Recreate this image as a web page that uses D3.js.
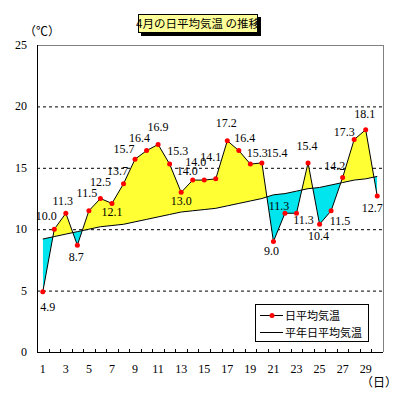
<!DOCTYPE html>
<html>
<head>
<meta charset="utf-8">
<script src="https://cdn.jsdelivr.net/npm/d3@7"></script>
<style>
  body { margin: 0; background: #fff; }
  text { font-family: "Liberation Serif", "Noto Sans CJK JP", serif; font-size: 12px; }
  .jp { font-family: "Noto Sans CJK JP", sans-serif; font-size: 11px; }
</style>
</head>
<body>
<svg width="399" height="400"></svg>
<script>
// data
const days = [1, 2, 3, 4, 5, 6, 7, 8, 9, 10, 11, 12, 13, 14, 15,
              16, 17, 18, 19, 20, 21, 22, 23, 24, 25, 26, 27, 28, 29, 30];
const dailyTemp = [4.9, 10.0, 11.3, 8.7, 11.5, 12.5, 12.1, 13.7, 15.7, 16.4,
                   16.9, 15.3, 13.0, 14.0, 14.0, 14.1, 17.2, 16.4, 15.3, 15.4,
                   9.0, 11.3, 11.3, 15.4, 10.4, 11.5, 14.2, 17.3, 18.1, 12.7];
const normalTemp = [9.2, 9.4, 9.6, 9.8, 10.0, 10.2, 10.3, 10.4, 10.6, 10.8,
                    11.0, 11.2, 11.4, 11.5, 11.6, 11.7, 11.9, 12.1, 12.3, 12.5,
                    12.8, 12.9, 13.1, 13.3, 13.4, 13.6, 13.8, 14.0, 14.1, 14.3];
const yTicks = [0, 5, 10, 15, 20, 25];
const xTickLabels = [1, 3, 5, 7, 9, 11, 13, 15, 17, 19, 21, 23, 25, 27, 29];
const titleText = '4月の日平均気温 の推移';
const legendLabels = ['日平均気温', '平年日平均気温'];

// label nudges (layout only): [dx, dy] of the label centre from its point
const labelOffsets = [[5, 15], [-8, -13], [-3, -12], [-1, 12], [-2, -18], [0, -17],
                      [0, 9], [-6, -13], [-11, -10], [-7, -13], [0, -17], [8, -13],
                      [0, 9], [3, -18], [-17, -9], [-5, -22], [-1, -18], [6, -13],
                      [7, -11], [15, -10], [-2, 10], [-6, -7], [7, 7], [-1, -17],
                      [-1, 12], [9, 10], [-8, -12], [-10, -8], [-1, -16], [-5, 12]];

const svg = d3.select('svg');
const width = +svg.attr('width');
const height = +svg.attr('height');

svg.append('rect').attr('width', width).attr('height', height).attr('fill', '#fff');

const margin = { top: 45, right: 16, bottom: 48, left: 37 };
const innerWidth = width - margin.left - margin.right;
const innerHeight = height - margin.top - margin.bottom;

const data = days.map((d, i) => ({ day: d, temp: dailyTemp[i], normal: normalTemp[i] }));

const xScale = d3.scaleLinear().domain([0.5, 30.5]).range([0, innerWidth]);
const yScale = d3.scaleLinear().domain([0, 25]).range([innerHeight, 0]);

const g = svg.append('g').attr('transform', `translate(${margin.left},${margin.top})`);

// clip regions above / below the normal line
const defs = svg.append('defs');
defs.append('clipPath').attr('id', 'above')
  .append('path')
  .attr('d', d3.area().x(d => xScale(d.day)).y0(-5).y1(d => yScale(d.normal))(data));
defs.append('clipPath').attr('id', 'below')
  .append('path')
  .attr('d', d3.area().x(d => xScale(d.day)).y0(innerHeight + 5).y1(d => yScale(d.normal))(data));

// gridlines
g.selectAll('.grid').data(yTicks.filter(t => t > 0 && t < 25))
  .enter().append('line')
    .attr('x1', 0).attr('x2', innerWidth)
    .attr('y1', d => yScale(d) + 0.5).attr('y2', d => yScale(d) + 0.5)
    .attr('stroke', '#000').attr('stroke-dasharray', '3,3');

// frame: gray top/right, black left/bottom axes
g.append('line').attr('x1', 0).attr('x2', innerWidth).attr('y1', 0.5).attr('y2', 0.5).attr('stroke', '#808080');
g.append('line').attr('x1', innerWidth + 0.5).attr('x2', innerWidth + 0.5).attr('y1', 0).attr('y2', innerHeight).attr('stroke', '#808080');

// filled differences
const diffArea = d3.area()
  .x(d => xScale(d.day))
  .y0(d => yScale(d.normal))
  .y1(d => yScale(d.temp));
g.append('path').attr('d', diffArea(data)).attr('fill', '#ffff33').attr('clip-path', 'url(#above)');
g.append('path').attr('d', diffArea(data)).attr('fill', '#00e5ee').attr('clip-path', 'url(#below)');

// lines
const normalLine = d3.line().x(d => xScale(d.day)).y(d => yScale(d.normal));
const dailyLine = d3.line().x(d => xScale(d.day)).y(d => yScale(d.temp));
g.append('path').attr('d', normalLine(data)).attr('fill', 'none').attr('stroke', '#000');
g.append('path').attr('d', dailyLine(data)).attr('fill', 'none').attr('stroke', '#000');

g.selectAll('.pt').data(data)
  .enter().append('circle')
    .attr('cx', d => xScale(d.day))
    .attr('cy', d => yScale(d.temp))
    .attr('r', 2.5)
    .attr('fill', '#ff0000');

// value labels
g.selectAll('.lbl').data(data)
  .enter().append('text')
    .attr('x', (d, i) => xScale(d.day) + labelOffsets[i][0])
    .attr('y', (d, i) => yScale(d.temp) + labelOffsets[i][1] + 4)
    .attr('text-anchor', 'middle')
    .text(d => d3.format('.1f')(d.temp));

// axes
g.append('line').attr('x1', 0.5).attr('x2', 0.5).attr('y1', 0).attr('y2', innerHeight).attr('stroke', '#000');
g.append('line').attr('x1', 0).attr('x2', innerWidth).attr('y1', innerHeight + 0.5).attr('y2', innerHeight + 0.5).attr('stroke', '#000');

g.selectAll('.xtick').data(days.slice(0, -1))
  .enter().append('line')
    .attr('x1', d => Math.round(xScale(d + 0.5)) + 0.5)
    .attr('x2', d => Math.round(xScale(d + 0.5)) + 0.5)
    .attr('y1', innerHeight).attr('y2', innerHeight - 3)
    .attr('stroke', '#000');

g.selectAll('.xlab').data(xTickLabels)
  .enter().append('text')
    .attr('x', d => xScale(d))
    .attr('y', innerHeight + 21)
    .attr('text-anchor', 'middle')
    .text(d => d);

g.selectAll('.ylab').data(yTicks)
  .enter().append('text')
    .attr('x', -10)
    .attr('y', d => yScale(d) + 4)
    .attr('text-anchor', 'end')
    .text(d => d);

svg.append('text').attr('class', 'jp').attr('x', 24).attr('y', 36).style('font-size', '12px').text('（℃）');
svg.append('text').attr('class', 'jp').attr('x', 361).attr('y', 387).style('font-size', '12px').text('（日）');

// title box with shadow
const title = svg.append('g').attr('transform', 'translate(138,14)');
title.append('rect').attr('x', 3).attr('y', 3).attr('width', 120).attr('height', 19).attr('fill', '#000');
title.append('rect').attr('x', 0.5).attr('y', 0.5).attr('width', 119).attr('height', 18)
  .attr('fill', '#ffff99').attr('stroke', '#000');
title.append('text').attr('class', 'jp').attr('x', 60).attr('y', 14)
  .attr('text-anchor', 'middle').style('font-size', '11.5px').text(titleText);

// legend
const legend = svg.append('g').attr('transform', 'translate(255,304)');
legend.append('rect').attr('x', 0.5).attr('y', 0.5).attr('width', 113).attr('height', 37)
  .attr('fill', '#fff').attr('stroke', '#000');
legendLabels.forEach((label, i) => {
  const ly = 11.5 + i * 17;
  legend.append('line').attr('x1', 5).attr('x2', 28).attr('y1', ly).attr('y2', ly).attr('stroke', '#000');
  if (i === 0) legend.append('circle').attr('cx', 17).attr('cy', ly).attr('r', 2.5).attr('fill', '#ff0000');
  legend.append('text').attr('class', 'jp').attr('x', 30).attr('y', ly + 4).text(label);
});
</script>
</body>
</html>
